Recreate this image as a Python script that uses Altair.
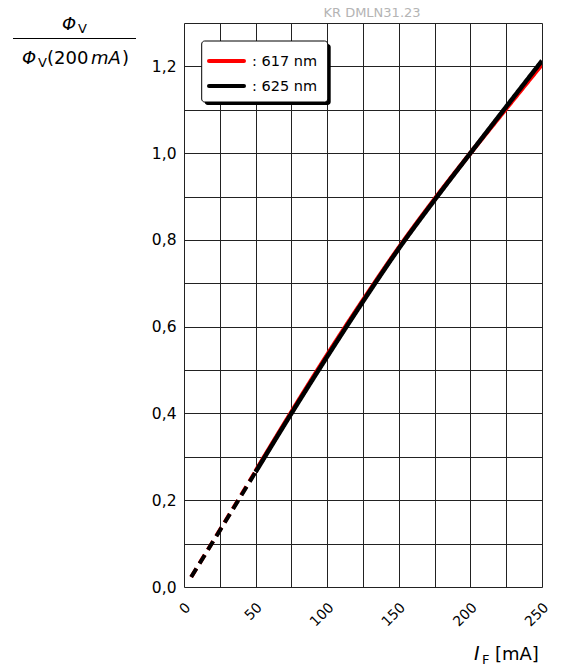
import altair as alt
import pandas as pd

# Forward current (mA) and relative luminous flux Phi_V / Phi_V(200 mA)
current_ma = [5, 25, 50, 75, 100, 125, 150, 175, 200, 225, 250]
flux_617 = [0.023, 0.131, 0.267, 0.403, 0.535, 0.661, 0.782, 0.894, 1.000, 1.103, 1.205]
flux_625 = [0.023, 0.130, 0.265, 0.400, 0.531, 0.658, 0.780, 0.892, 1.000, 1.107, 1.213]
series_names = ["617 nm", "625 nm"]
series_colors = ["#ff0000", "#000000"]
dash_limit = 50  # below this current the curve is extrapolated (dashed)

x_ticks = [0, 50, 100, 150, 200, 250]
x_grid = list(range(0, 251, 25))
y_grid = [round(i * 0.1, 1) for i in range(0, 14)]

FONT = "DejaVu Sans"
W, H = 358, 564


def build_rows(name, values):
    rows = []
    for c, v in zip(current_ma, values):
        if c <= dash_limit:
            rows.append({"I": c, "phi": v, "series": name, "part": "dashed"})
        if c >= dash_limit:
            rows.append({"I": c, "phi": v, "series": name, "part": "solid"})
    return rows


df = pd.DataFrame(build_rows(series_names[0], flux_617) + build_rows(series_names[1], flux_625))

x_scale = alt.Scale(domain=[0, 250], nice=False, zero=False)
y_scale = alt.Scale(domain=[0, 1.3], nice=False, zero=False)

x_enc = alt.X(
    "I:Q",
    scale=x_scale,
    axis=alt.Axis(
        values=x_grid,
        title=None,
        ticks=False,
        domain=False,
        grid=True,
        gridColor="#222222",
        gridWidth=1,
        labelExpr="indexof([0,50,100,150,200,250], datum.value) >= 0 ? datum.label : ''",
        labelAngle=-45,
        labelAlign="right",
        labelBaseline="middle",
        labelPadding=18,
        labelOffset=4,
        labelFont=FONT,
        labelFontSize=14,
        labelColor="#000000",
    ),
)
y_enc = alt.Y(
    "phi:Q",
    scale=y_scale,
    axis=alt.Axis(
        values=y_grid,
        title=None,
        ticks=False,
        domain=False,
        grid=True,
        gridColor="#222222",
        gridWidth=1,
        labelExpr="round(datum.value*10) % 2 == 0 ? replace(format(datum.value, '.1f'), '.', ',') : ''",
        labelPadding=8,
        labelFont=FONT,
        labelFontSize=15.5,
        labelColor="#000000",
    ),
)

dash_scale = alt.Scale(domain=["dashed", "solid"], range=[[10, 6], [1, 0]])
color_scale = alt.Scale(domain=series_names, range=series_colors)


def curve(name, width_range):
    return (
        alt.Chart(df)
        .transform_filter(alt.datum.series == name)
        .mark_line(interpolate="monotone", strokeCap="butt", clip=True)
        .encode(
            x=x_enc,
            y=y_enc,
            color=alt.Color("series:N", scale=color_scale, legend=None),
            strokeDash=alt.StrokeDash("part:N", scale=dash_scale, legend=None),
            strokeWidth=alt.StrokeWidth("part:N", scale=alt.Scale(domain=["dashed", "solid"], range=width_range), legend=None),
            detail="part:N",
        )
    )


red_curve = curve(series_names[0], [4, 4.5])
black_curve = curve(series_names[1], [4, 5.5])

dummy = pd.DataFrame({"k": [0]})
base = alt.Chart(dummy)


def label(text, x, y, size, italic=False, color="#000000", align="left"):
    return base.mark_text(
        text=text,
        font=FONT,
        fontSize=size,
        fontStyle="italic" if italic else "normal",
        align=align,
        baseline="alphabetic",
        color=color,
    ).encode(x=alt.value(x), y=alt.value(y))


# Legend box with drop shadow
legend_shadow = base.mark_rect(color="#000000", cornerRadius=3).encode(
    x=alt.value(20.7), x2=alt.value(146.7), y=alt.value(21), y2=alt.value(82)
)
legend_box = base.mark_rect(fill="#ffffff", stroke="#000000", strokeWidth=1, cornerRadius=3).encode(
    x=alt.value(17.7), x2=alt.value(143.7), y=alt.value(18), y2=alt.value(79)
)
legend_red = base.mark_rule(color=series_colors[0], strokeWidth=4, strokeCap="round").encode(
    x=alt.value(25), x2=alt.value(60), y=alt.value(38)
)
legend_black = base.mark_rule(color=series_colors[1], strokeWidth=4, strokeCap="round").encode(
    x=alt.value(25), x2=alt.value(60), y=alt.value(63)
)
legend_t1 = label(": " + series_names[0], 68, 43, 14.5)
legend_t2 = label(": " + series_names[1], 68, 68, 14.5)

# Document code at the top
doc_code = label("KR DMLN31.23", 188, -6, 13, color="#b4b4b4", align="center")

# Y title: Phi_V / Phi_V(200 mA)
y_title = [
    label("\u03a6", -122, 7, 18, italic=True),
    label("V", -106, 10, 13),
    base.mark_rule(color="#000000", strokeWidth=1.2).encode(
        x=alt.value(-171), x2=alt.value(-48), y=alt.value(15.5)
    ),
    label("\u03a6", -162, 41, 18, italic=True),
    label("V", -146, 44, 13),
    label("(200", -137, 41, 18),
    label("mA", -93, 41, 18, italic=True),
    label(")", -62, 41, 18),
]

# X title: I_F [mA]
x_title = [
    label("I", 290, 637, 19, italic=True),
    label("F", 298, 641, 13),
    label("[mA]", 311, 637, 18),
]

chart = alt.layer(
    red_curve,
    black_curve,
    legend_shadow,
    legend_box,
    legend_red,
    legend_black,
    legend_t1,
    legend_t2,
    doc_code,
    *y_title,
    *x_title,
).properties(
    width=W,
    height=H,
    autosize=alt.AutoSizeParams(type="none"),
    padding={"left": 184, "top": 23, "right": 21, "bottom": 83},
).configure_view(
    stroke="#000000", strokeWidth=1.6
).configure(
    background="#ffffff"
)

chart.save("out.html", embed_options={"renderer": "svg", "actions": False})
